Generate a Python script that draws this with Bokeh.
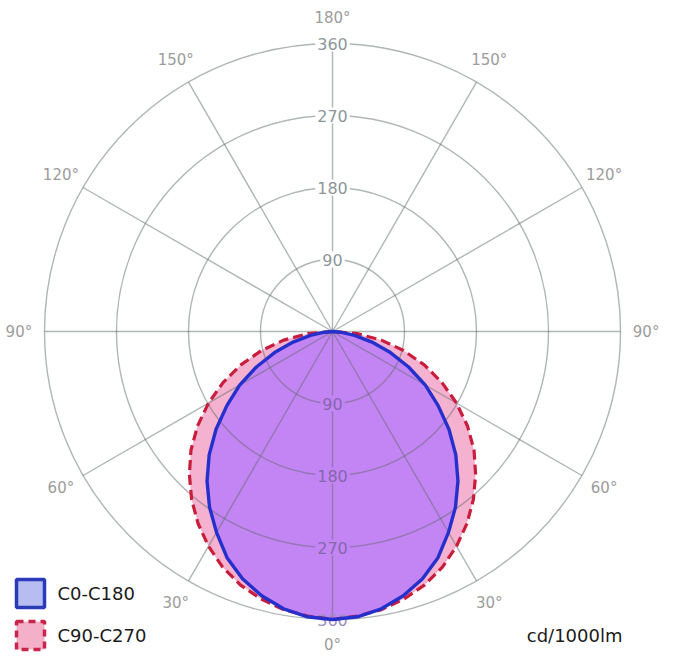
import numpy as np
from bokeh.plotting import figure
from bokeh.models import Range1d
from bokeh.core.properties import value
from bokeh.embed import file_html
from bokeh.resources import INLINE

# ---- data ----
gamma_deg = [0, 5, 10, 15, 20, 25, 30, 35, 40, 45, 50, 55, 60, 65, 70, 75, 80, 85, 90]
c0_c180 = [360, 358, 352, 342, 329, 312, 290, 268, 244, 218, 190, 161, 134, 105, 77, 51, 28, 10, 0]
c90_c270 = [360, 357, 353, 346, 337, 325, 310, 293, 274, 253, 231, 206, 179, 151, 122, 92, 62, 31, 0]
ring_values = [90, 180, 270, 360]
ring_labels = ["90", "180", "270", "360"]
spoke_deg = [0, 30, 60, 90, 120, 150, 180, 210, 240, 270, 300, 330]
angle_label_deg = [0, 30, 60, 90, 120, 150, 180, -30, -60, -90, -120, -150]
angle_label_text = ["0°", "30°", "60°", "90°", "120°", "150°", "180°",
                    "30°", "60°", "90°", "120°", "150°"]
series_names = ["C0-C180", "C90-C270"]
unit_label = "cd/1000lm"

# ---- geometry helpers ----
SCALE = 0.8          # px per cd
CX, CY = 332, 331    # centre in picture pixels (figure starts at picture 0,0)
W, H = 673, 657

def px(X, Y):
    return (X - CX) / SCALE, (CY - Y) / SCALE

def curve(vals):
    g = np.radians(np.array(gamma_deg, dtype=float))
    v = np.array(vals, dtype=float)
    a = np.concatenate([-g[::-1], g[1:]])
    r = np.concatenate([v[::-1], v[1:]])
    return r * np.sin(a), -r * np.cos(a)

p = figure(width=W, height=H, output_backend="svg", toolbar_location=None,
           x_axis_location=None, y_axis_location=None,
           x_range=Range1d(px(0, 0)[0], px(W, 0)[0]),
           y_range=Range1d(px(0, H)[1], px(0, 0)[1]),
           min_border=0, min_border_left=0, min_border_right=0,
           min_border_top=0, min_border_bottom=0)
p.grid.visible = False
p.outline_line_color = None
p.background_fill_color = "white"
p.border_fill_color = "white"

FONT = value("DejaVu Sans")
LILAC = "#c384f4"

# fills
xr, yr = curve(c90_c270)
xb, yb = curve(c0_c180)
p.patch(xr, yr, fill_color="#f5b1d0", line_color=None)
p.patch(xb, yb, fill_color=LILAC, line_color=None)

# grid
grid_col = "#5f6e6c"
rmax = ring_values[-1]
p.circle(x=[0] * len(ring_values), y=[0] * len(ring_values), radius=ring_values,
         fill_color=None, line_color=grid_col, line_alpha=0.5, line_width=1.4)
sa = np.radians(np.array(spoke_deg, dtype=float))
p.segment(x0=[0] * len(sa), y0=[0] * len(sa), x1=rmax * np.sin(sa), y1=-rmax * np.cos(sa),
          line_color=grid_col, line_alpha=0.5, line_width=1.4)

# ring labels (upper: white background; lower: inside fill)
p.text(x=[0] * 4, y=ring_values, text=ring_labels, text_font=FONT, text_font_size="16px",
       text_color="#8d979b", text_align="center", text_baseline="middle",
       background_fill_color="white", padding=2)
p.text(x=[0] * 3, y=[-v for v in ring_values[:3]], text=ring_labels[:3], text_font=FONT,
       text_font_size="16px", text_color="#8468ac", text_align="center",
       text_baseline="middle", background_fill_color=LILAC, padding=2)
p.text(x=[0], y=[-ring_values[3]], text=ring_labels[3:], text_font=FONT,
       text_font_size="16px", text_color="#a08fc0", text_align="center",
       text_baseline="middle")

# angle labels
R_LAB = 392
la = np.radians(np.array(angle_label_deg, dtype=float))
p.text(x=R_LAB * np.sin(la), y=-R_LAB * np.cos(la), text=angle_label_text, text_font=FONT,
       text_font_size="15px", text_color="#9c9c9c", text_align="center",
       text_baseline="middle")

# outlines
p.line(xr, yr, line_color="#c81e3c", line_width=3.2, line_dash="10 5")
p.line(xb, yb, line_color="#2530cc", line_width=3.4)

# legend
bx, by = px(30, 593)
p.rect(x=[bx], y=[by], width=28, height=28, width_units="screen", height_units="screen",
       fill_color="#b7bdf0", line_color="#2a3ab8", line_width=3.5)
rx, ry = px(30, 635)
p.rect(x=[rx], y=[ry], width=28, height=28, width_units="screen", height_units="screen",
       fill_color="#f4b0c8", line_color="#c8254d", line_width=3.5, line_dash="7 5")
tx1, ty1 = px(57, 593)
tx2, ty2 = px(57, 635)
p.text(x=[tx1, tx2], y=[ty1, ty2], text=series_names, text_font=FONT, text_font_size="18px",
       text_color="#1a1a1a", text_align="left", text_baseline="middle")
ux, uy = px(622, 635)
p.text(x=[ux], y=[uy], text=[unit_label], text_font=FONT, text_font_size="18px",
       text_color="#1a1a1a", text_align="right", text_baseline="middle")

open("out.html", "w").write(file_html(p, INLINE))
